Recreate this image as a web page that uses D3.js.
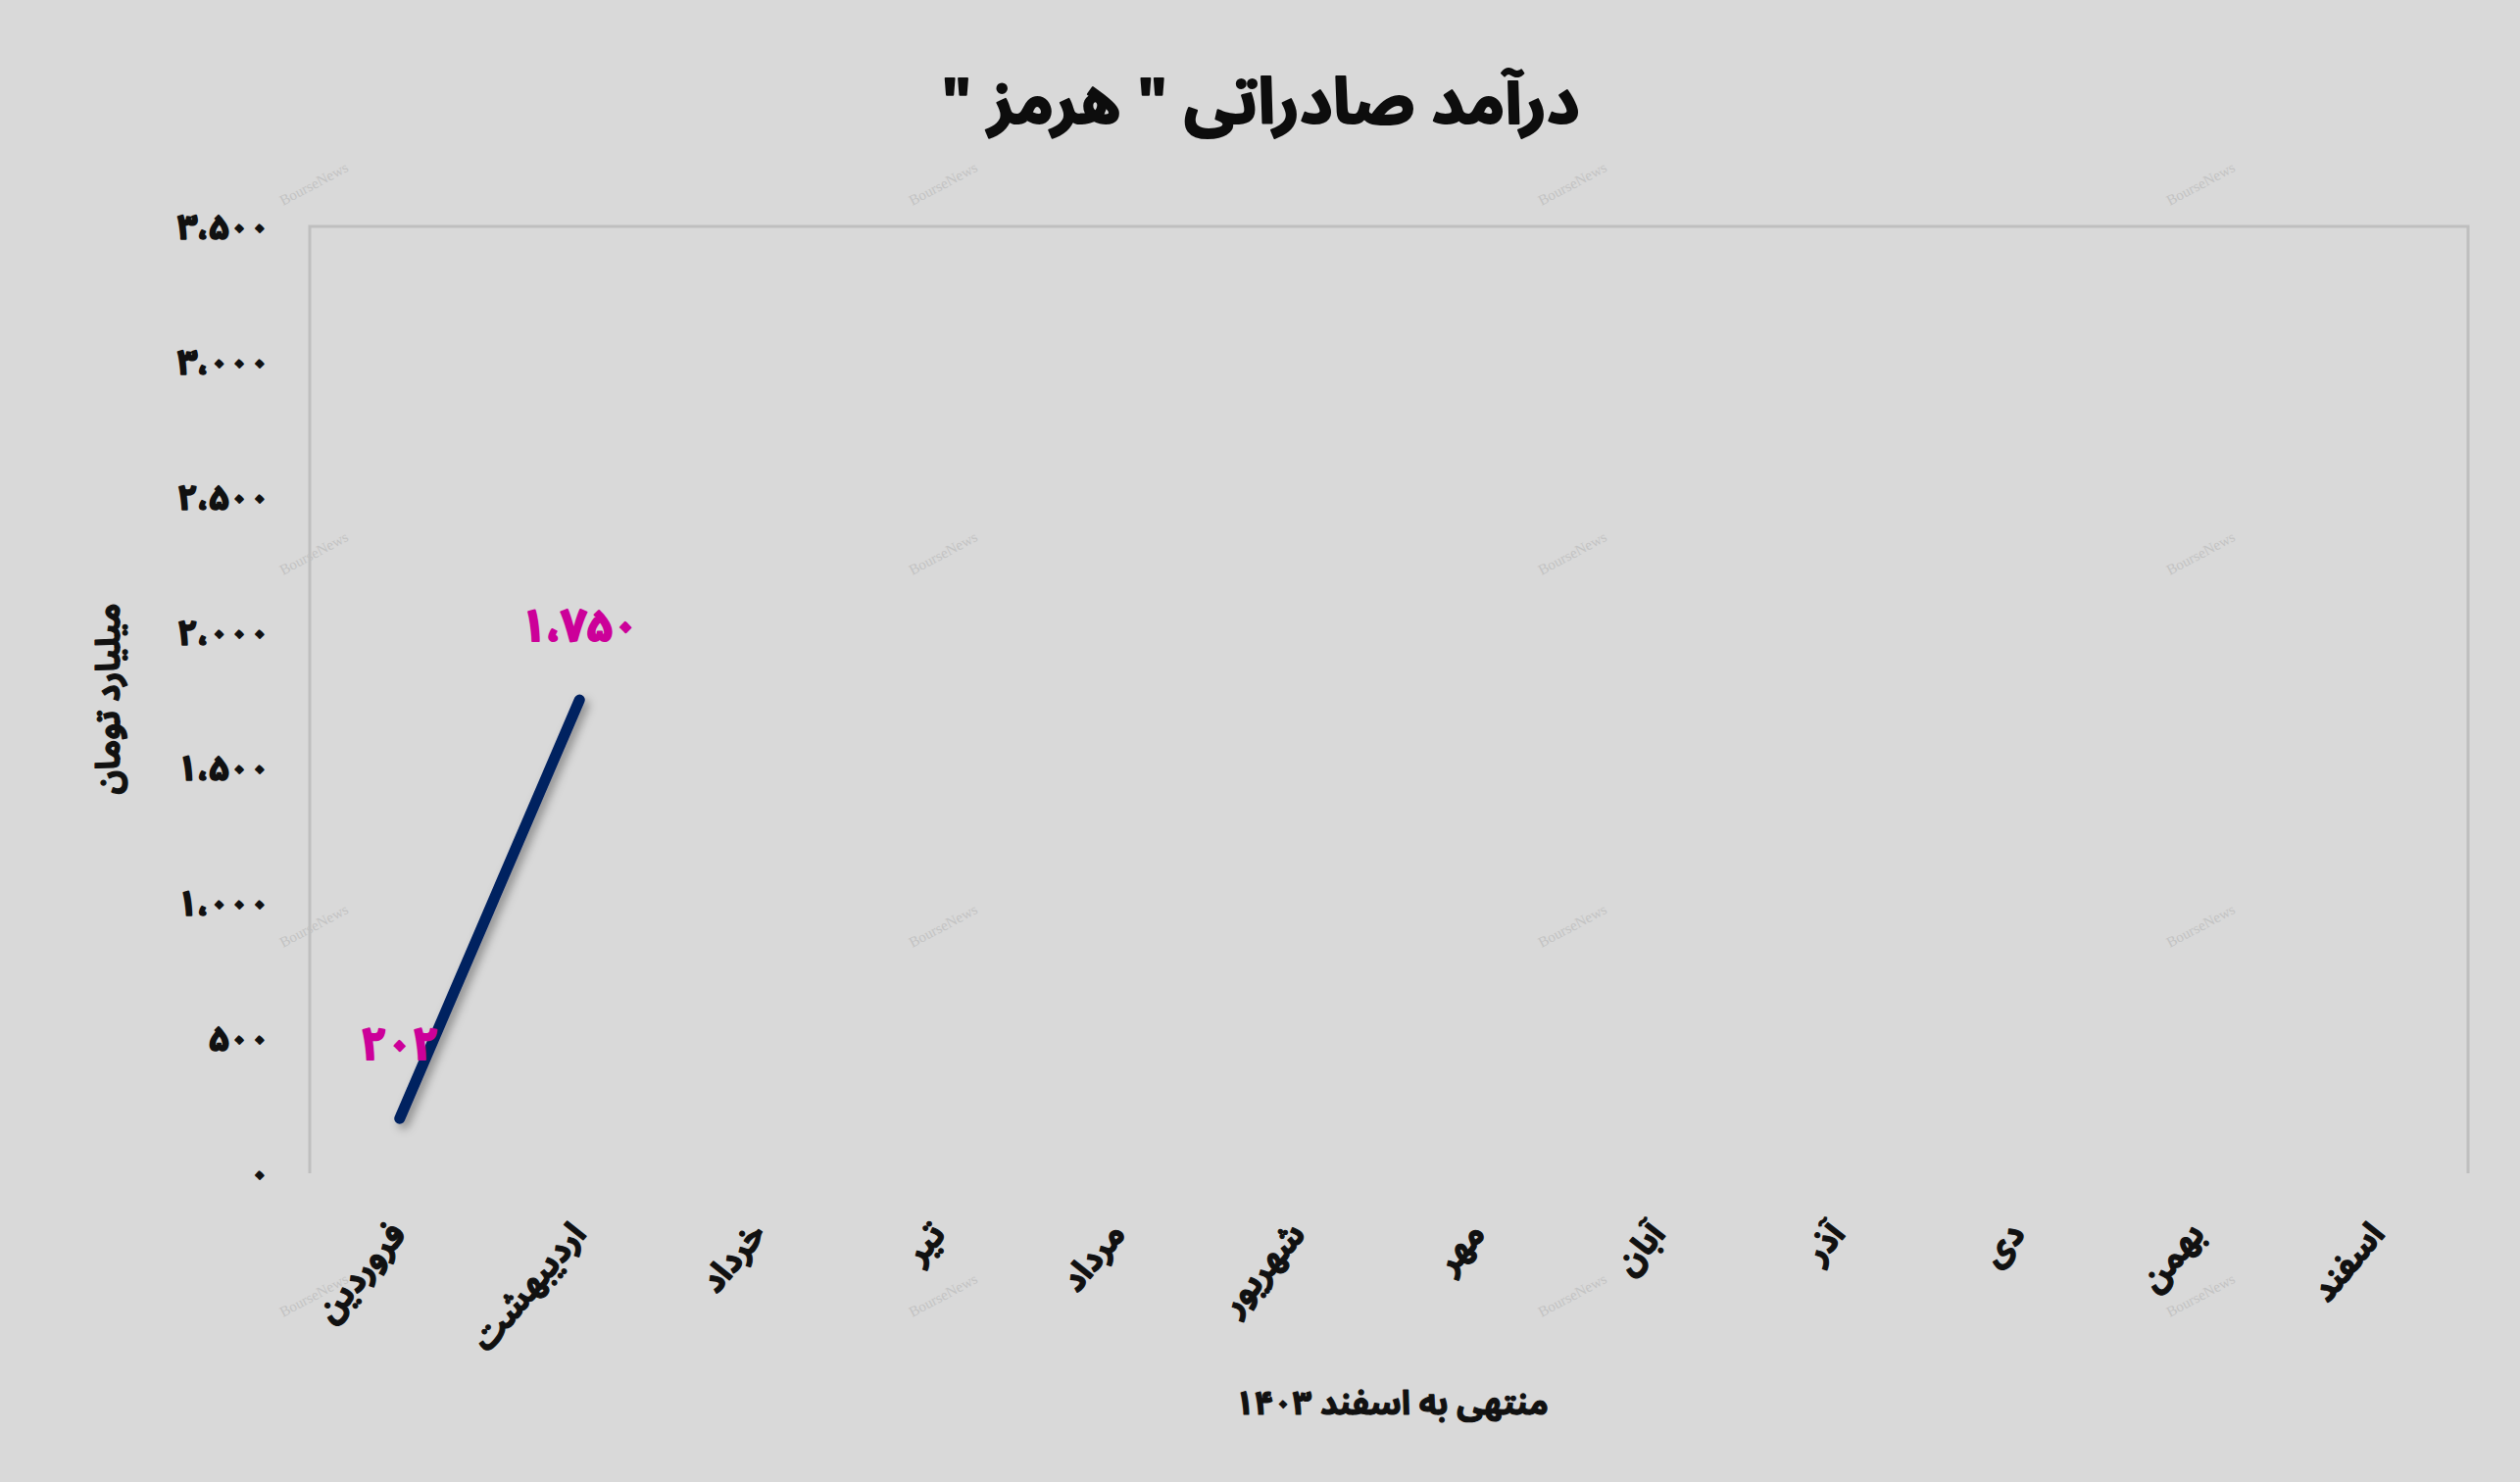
<!DOCTYPE html>
<html>
<head>
<meta charset="utf-8">
<script src="https://cdn.jsdelivr.net/npm/d3@7/dist/d3.min.js"></script>
<style>
  html, body { margin: 0; padding: 0; background: #D9D9D9; }
  svg { display: block; }
  .fa { font-family: "Noto Sans Arabic", "DejaVu Sans", sans-serif; font-weight: bold; paint-order: stroke; stroke-linejoin: round; }
</style>
</head>
<body>
<svg id="chart" width="2571" height="1512"></svg>
<script>
// ---- data ----
const months = ["فروردین", "اردیبهشت", "خرداد", "تیر", "مرداد", "شهریور", "مهر", "آبان", "آذر", "دی", "بهمن", "اسفند"];
const revenue = [202, 1750, null, null, null, null, null, null, null, null, null, null];
const yTicks = [0, 500, 1000, 1500, 2000, 2500, 3000, 3500];
const titleText = 'درآمد صادراتی " هرمز "';
const yTitle = "میلیارد تومان";
const xTitle = "منتهی به اسفند ۱۴۰۳";
const watermark = "BourseNews";
const wmCols = [321, 963, 1605, 2246];
const wmRows = [189, 566, 946, 1323];

// ---- helpers ----
const faDigits = "۰۱۲۳۴۵۶۷۸۹";
function toFa(n) {
  return d3.format(",")(n).replace(/\d/g, d => faDigits[+d]).replace(/,/g, "،");
}

const W = 2571, H = 1512;
const margin = { left: 316, right: W - 2518, top: 231, bottom: H - 1197 };
const svg = d3.select("#chart");

svg.append("rect").attr("width", W).attr("height", H).attr("fill", "#D9D9D9");

const defs = svg.append("defs");
const f = defs.append("filter").attr("id", "shadow").attr("x", "-20%").attr("y", "-20%").attr("width", "140%").attr("height", "140%");
f.append("feDropShadow").attr("dx", 4).attr("dy", 5).attr("stdDeviation", 5)
  .attr("flood-color", "#000").attr("flood-opacity", 0.35);

const x = d3.scaleBand().domain(months).range([margin.left, W - margin.right]).padding(0);
const y = d3.scaleLinear().domain([0, 3500]).range([H - margin.bottom, margin.top]);

// watermarks
const wmG = svg.append("g");
wmRows.forEach(ry => wmCols.forEach(cx => {
  wmG.append("text")
    .attr("transform", `translate(${cx},${ry}) rotate(-28)`)
    .attr("text-anchor", "middle")
    .attr("dominant-baseline", "middle")
    .attr("font-family", "Liberation Serif, serif")
    .attr("font-size", 15)
    .attr("fill", "#C3C3C3")
    .text(watermark);
}));

// plot border (top, left, right)
const bx0 = margin.left, bx1 = W - margin.right, by0 = margin.top, by1 = H - margin.bottom;
svg.append("path")
  .attr("d", `M${bx0},${by1} L${bx0},${by0} L${bx1},${by0} L${bx1},${by1}`)
  .attr("fill", "none").attr("stroke", "#BFBFBF").attr("stroke-width", 3);

// y axis
const yAxis = d3.axisLeft(y).tickValues(yTicks).tickSize(0).tickPadding(0).tickFormat(toFa);
const yg = svg.append("g").attr("transform", `translate(275,0)`).call(yAxis);
yg.select(".domain").remove();
yg.selectAll("text").attr("class", "fa").attr("font-size", 36).attr("fill", "#111")
  .attr("stroke", "#111").attr("stroke-width", 1.6).attr("dy", "0.35em");

// x axis
const xAxis = d3.axisBottom(x).tickSize(0).tickPadding(0);
const xg = svg.append("g").call(xAxis);
xg.select(".domain").remove();
xg.selectAll(".tick").attr("transform", d => `translate(${x(d) + x.bandwidth() / 2 + 8},1260)`);
xg.selectAll("text")
  .attr("class", "fa")
  .attr("font-size", 34)
  .attr("fill", "#111")
  .attr("stroke", "#111").attr("stroke-width", 1.2)
  .attr("y", 0).attr("dy", 0)
  .attr("text-anchor", "end")
  .attr("transform", "rotate(-50)");

// line
const line = d3.line()
  .defined(d => d.v != null)
  .x(d => x(d.m) + x.bandwidth() / 2)
  .y(d => y(d.v));
const pts = months.map((m, i) => ({ m, v: revenue[i] }));
svg.append("path")
  .datum(pts)
  .attr("d", line)
  .attr("fill", "none")
  .attr("stroke", "#002060")
  .attr("stroke-width", 11)
  .attr("stroke-linecap", "round")
  .attr("stroke-linejoin", "round")
  .attr("filter", "url(#shadow)");

// data labels
svg.append("g").selectAll("text")
  .data(pts.filter(d => d.v != null))
  .join("text")
  .attr("class", "fa")
  .attr("x", d => x(d.m) + x.bandwidth() / 2)
  .attr("y", d => y(d.v) - 60)
  .attr("text-anchor", "middle")
  .attr("font-size", 46)
  .attr("fill", "#CC0099")
  .attr("stroke", "#CC0099").attr("stroke-width", 2)
  .text(d => toFa(d.v));

// titles
svg.append("text").attr("class", "fa")
  .attr("x", 1286).attr("y", 126)
  .attr("text-anchor", "middle")
  .attr("direction", "rtl")
  .attr("font-size", 65)
  .attr("fill", "#0D0D0D")
  .attr("stroke", "#0D0D0D").attr("stroke-width", 2)
  .text(titleText);

svg.append("text").attr("class", "fa")
  .attr("transform", `translate(122,713) rotate(-90)`)
  .attr("text-anchor", "middle")
  .attr("direction", "rtl")
  .attr("font-size", 34)
  .attr("fill", "#111")
  .attr("stroke", "#111").attr("stroke-width", 1.2)
  .text(yTitle);

svg.append("text").attr("class", "fa")
  .attr("x", 1420).attr("y", 1443)
  .attr("text-anchor", "middle")
  .attr("direction", "rtl")
  .attr("font-size", 34)
  .attr("fill", "#111")
  .attr("stroke", "#111").attr("stroke-width", 1.2)
  .text(xTitle);
</script>
</body>
</html>
